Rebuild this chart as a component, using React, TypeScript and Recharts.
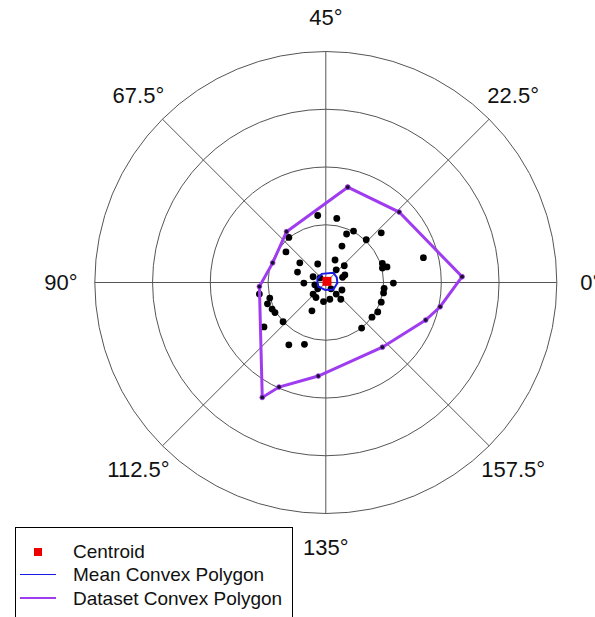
import React from "react";
import {
  PolarAngleAxis,
  PolarGrid,
  PolarRadiusAxis,
  Radar,
  RadarChart,
  Scatter,
  ScatterChart,
  XAxis,
  YAxis,
} from "recharts";

type Pt = { x: number; y: number };

const ANGLE_LABELS = ["0°", "22.5°", "45°", "67.5°", "90°", "112.5°", "135°", "157.5°"];
const RADIUS_DOMAIN: [number, number] = [0, 4];

// observations, in ring units (ring spacing = 1)
const POINTS: Pt[] = [
  { x: -0.14, y: 1.16 }, { x: 0.19, y: 1.11 }, { x: -0.64, y: 0.78 }, { x: -0.69, y: 0.53 },
  { x: 0.48, y: 0.89 }, { x: 0.36, y: 0.84 }, { x: 0.96, y: 0.86 }, { x: 0.7, y: 0.74 },
  { x: 0.28, y: 0.63 }, { x: 1.69, y: 0.43 }, { x: -0.45, y: 0.34 }, { x: -0.14, y: 0.32 },
  { x: 0.16, y: 0.39 }, { x: 0.32, y: 0.29 }, { x: 0.98, y: 0.33 }, { x: 1.06, y: 0.27 },
  { x: 0.98, y: 0.25 }, { x: 0.18, y: 0.22 }, { x: -0.49, y: 0.18 }, { x: -0.22, y: 0.1 },
  { x: 0.33, y: 0.13 }, { x: 0.29, y: 0.09 }, { x: -0.38, y: -0.01 }, { x: 1.17, y: -0.01 },
  { x: -1.15, y: -0.2 }, { x: -0.19, y: -0.04 }, { x: -0.22, y: -0.2 }, { x: -0.17, y: -0.26 },
  { x: -0.04, y: -0.33 }, { x: 0.07, y: -0.29 }, { x: 0.18, y: -0.2 }, { x: 0.28, y: -0.13 },
  { x: 0.26, y: -0.29 }, { x: 1.01, y: -0.1 }, { x: 1.0, y: -0.18 }, { x: 0.96, y: -0.34 },
  { x: 0.9, y: -0.51 }, { x: 0.8, y: -0.6 }, { x: 0.62, y: -0.79 }, { x: -0.97, y: -0.27 },
  { x: -1.01, y: -0.37 }, { x: -0.93, y: -0.46 }, { x: -0.88, y: -0.52 }, { x: -0.74, y: -0.68 },
  { x: -1.07, y: -0.77 }, { x: -0.24, y: -0.49 }, { x: -0.64, y: -1.08 }, { x: -0.37, y: -1.07 },
  { x: -0.1, y: 0.08 }, { x: -0.14, y: -0.11 }, { x: 0.09, y: -0.11 },
];

const DATASET_HULL: Pt[] = [
  { x: 0.38, y: 1.65 }, { x: 1.27, y: 1.22 }, { x: 2.36, y: 0.1 }, { x: 1.98, y: -0.42 },
  { x: 1.73, y: -0.65 }, { x: 0.98, y: -1.12 }, { x: -0.13, y: -1.62 }, { x: -0.81, y: -1.81 },
  { x: -1.1, y: -1.99 }, { x: -1.15, y: -0.07 }, { x: -0.92, y: 0.34 }, { x: -0.68, y: 0.88 },
];

const MEAN_HULL: Pt[] = [
  { x: -0.15, y: 0.06 }, { x: -0.07, y: 0.15 }, { x: 0.13, y: 0.17 }, { x: 0.19, y: 0.09 },
  { x: 0.2, y: -0.01 }, { x: 0.13, y: -0.12 }, { x: -0.01, y: -0.13 }, { x: -0.13, y: -0.07 },
];

const CENTROID: Pt[] = [{ x: 0.02, y: 0.02 }];

const LEGEND = [
  { label: "Centroid", kind: "square", color: "#ee0000" },
  { label: "Mean Convex Polygon", kind: "line", color: "#1a1ae6" },
  { label: "Dataset Convex Polygon", kind: "line", color: "#a03cf0" },
];

const FONT = "'Liberation Sans', Arial, Helvetica, sans-serif";
const W = 595;
const H = 617;
const CX = 325.8;
const CY = 282.5;
const R = 231;

const close = (pts: Pt[]) => [...pts, pts[0]];

const AngleTick = (props: any) => (
  <text
    x={props.x}
    y={props.y}
    textAnchor="middle"
    dominantBaseline="central"
    fontSize={22}
    fontFamily={FONT}
    fill="#111"
  >
    {props.payload.value}
  </text>
);

export default function App() {
  // outer ring value per spoke, so the radius axis has something to scale
  const gridData = ANGLE_LABELS.map((label) => ({ label, outer: RADIUS_DOMAIN[1] }));

  return (
    <div style={{ position: "absolute", left: 0, top: 0, width: W, height: H, overflow: "hidden", background: "#fff" }}>
      <div style={{ position: "absolute", left: 0, top: 0 }}>
        <RadarChart width={W} height={H} data={gridData} cx={CX} cy={CY} outerRadius={R} startAngle={45} endAngle={405}>
          <PolarGrid gridType="circle" stroke="#555" strokeWidth={1} />
          <PolarAngleAxis dataKey="label" tick={<AngleTick />} tickSize={34} tickLine={false} axisLine={false} />
          <PolarRadiusAxis type="number" domain={RADIUS_DOMAIN} tickCount={5} tick={false} axisLine={false} />
          <Radar dataKey="outer" stroke="none" fill="none" dot={false} isAnimationActive={false} />
        </RadarChart>
      </div>

      <div style={{ position: "absolute", left: 0, top: 0 }}>
        <ScatterChart
          width={W}
          height={H}
          margin={{ top: CY - R, bottom: H - CY - R, left: CX - R, right: W - CX - R }}
        >
          <XAxis type="number" dataKey="x" domain={[-4, 4]} hide allowDataOverflow />
          <YAxis type="number" dataKey="y" domain={[-4, 4]} hide allowDataOverflow />
          <Scatter
            data={POINTS}
            isAnimationActive={false}
            shape={(p: any) => <circle cx={p.cx} cy={p.cy} r={3.4} fill="#000" />}
          />
          <Scatter
            data={close(DATASET_HULL)}
            isAnimationActive={false}
            line={{ stroke: "#a03cf0", strokeWidth: 3 }}
            shape={(p: any) => <circle cx={p.cx} cy={p.cy} r={2.4} fill="#1b1030" stroke="#a03cf0" strokeWidth={0.8} />}
          />
          <Scatter
            data={close(MEAN_HULL)}
            isAnimationActive={false}
            line={{ stroke: "#1a1ae6", strokeWidth: 2 }}
            shape={() => <g />}
          />
          <Scatter
            data={CENTROID}
            isAnimationActive={false}
            shape={(p: any) => <rect x={p.cx - 4.5} y={p.cy - 4.5} width={9} height={9} fill="#ee0000" />}
          />
        </ScatterChart>
      </div>

      <div
        style={{
          position: "absolute",
          left: 15,
          top: 527,
          width: 276,
          height: 120,
          border: "1px solid #000",
          background: "#fff",
          fontFamily: FONT,
          fontSize: 19,
          color: "#111",
        }}
      >
        {LEGEND.map((item, i) => (
          <div key={item.label} style={{ position: "absolute", left: 0, top: 12 + i * 23.3, height: 23, width: 276 }}>
            {item.kind === "square" ? (
              <div style={{ position: "absolute", left: 18, top: 7.5, width: 8, height: 8, background: item.color }} />
            ) : (
              <div style={{ position: "absolute", left: 4, top: 10.5, width: 36, height: 1.5, background: item.color }} />
            )}
            <span style={{ position: "absolute", left: 57, top: 0, lineHeight: "23px", whiteSpace: "nowrap" }}>
              {item.label}
            </span>
          </div>
        ))}
      </div>
    </div>
  );
}
